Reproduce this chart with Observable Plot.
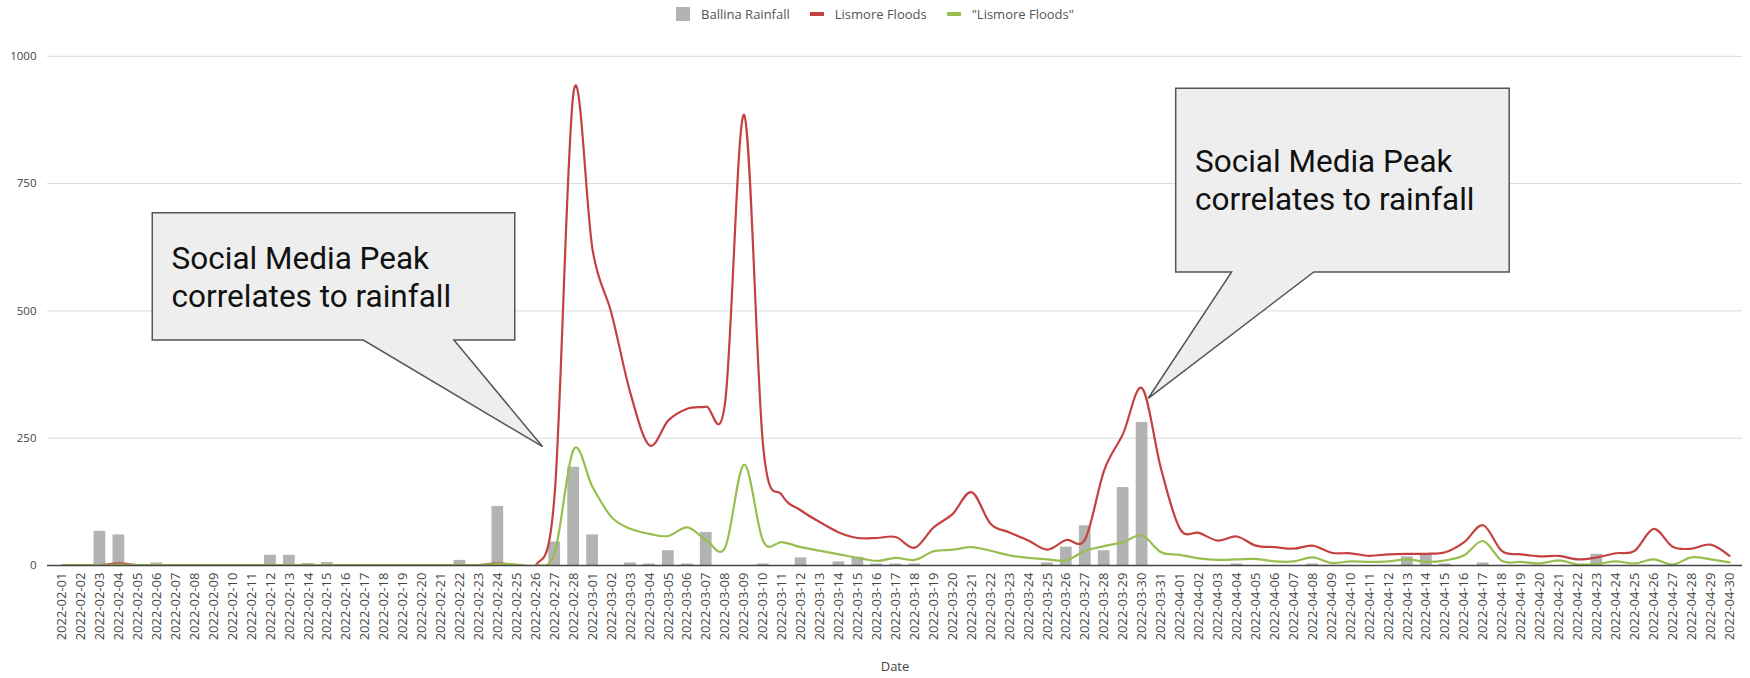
<!DOCTYPE html>
<html><head><meta charset="utf-8">
<script src="https://cdn.jsdelivr.net/npm/d3@7"></script>
<script src="https://cdn.jsdelivr.net/npm/@observablehq/plot@0.6"></script>
<style>
body{margin:0;background:#fff;font-family:"Open Sans",sans-serif;}
#legend{height:28px;display:flex;justify-content:center;align-items:center;font-size:13px;color:#555;}
.item{display:flex;align-items:center;margin:0 10px;}
.sw{margin-right:11px;display:inline-block;}
</style></head><body>
<div id="legend"></div>
<div id="chart"></div>
<script>
const dates = [
"2022-02-01","2022-02-02","2022-02-03","2022-02-04","2022-02-05","2022-02-06","2022-02-07","2022-02-08","2022-02-09","2022-02-10",
"2022-02-11","2022-02-12","2022-02-13","2022-02-14","2022-02-15","2022-02-16","2022-02-17","2022-02-18","2022-02-19","2022-02-20",
"2022-02-21","2022-02-22","2022-02-23","2022-02-24","2022-02-25","2022-02-26","2022-02-27","2022-02-28","2022-03-01","2022-03-02",
"2022-03-03","2022-03-04","2022-03-05","2022-03-06","2022-03-07","2022-03-08","2022-03-09","2022-03-10","2022-03-11","2022-03-12",
"2022-03-13","2022-03-14","2022-03-15","2022-03-16","2022-03-17","2022-03-18","2022-03-19","2022-03-20","2022-03-21","2022-03-22",
"2022-03-23","2022-03-24","2022-03-25","2022-03-26","2022-03-27","2022-03-28","2022-03-29","2022-03-30","2022-03-31","2022-04-01",
"2022-04-02","2022-04-03","2022-04-04","2022-04-05","2022-04-06","2022-04-07","2022-04-08","2022-04-09","2022-04-10","2022-04-11",
"2022-04-12","2022-04-13","2022-04-14","2022-04-15","2022-04-16","2022-04-17","2022-04-18","2022-04-19","2022-04-20","2022-04-21",
"2022-04-22","2022-04-23","2022-04-24","2022-04-25","2022-04-26","2022-04-27","2022-04-28","2022-04-29","2022-04-30"];

const ballinaRainfall = [
0,0,67,60,0,5,0,1,0,0,
0,20,20,4,6,0,0,0,0,1,
0,10,1,116,0,0,46,193,60,0,
5,3,29,3,65,0,0,3,0,15,
0,7,16,3,3,3,0,0,0,0,
0,0,5,36,78,29,153,281,0,0,
0,0,3,0,0,0,3,0,0,0,
0,17,23,3,0,5,0,0,0,0,
0,22,0,0,0,0,0,0,0];

const lismoreFloods = [
0,0,1,4,1,0,0,0,0,0,
0,0,0,0,0,0,0,0,0,0,
0,0,1,4,1,0,140,930,620,495,
338,236,285,308,312,322,885,235,138,108,
85,65,54,54,56,35,75,101,144,82,
65,49,31,50,52,187,259,348,190,72,
64,49,57,39,36,33,39,25,24,19,
22,23,23,26,46,79,28,22,18,19,
12,16,24,29,72,37,33,41,19];

const lismoreFloodsQuoted = [
1,1,1,2,1,1,1,1,1,1,
1,1,1,1,1,1,1,1,1,1,
1,1,1,3,2,0,25,228,154,95,
72,62,58,75,50,36,198,48,46,36,
29,22,15,9,15,11,28,31,36,29,
20,15,12,10,29,38,46,59,26,21,
14,11,12,13,8,8,16,5,8,7,
8,12,7,10,20,48,9,7,4,10,
2,3,8,4,12,2,16,12,6];

const yTicks = [0, 250, 500, 750, 1000];
const seriesNames = ["Ballina Rainfall", "Lismore Floods", "\"Lismore Floods\""];
const seriesColors = ["#b3b3b3", "#c4413f", "#97be4f"];

// callout annotations, anchored in data units (day index, value)
const calloutTexts = [["Social Media Peak", "correlates to rainfall"], ["Social Media Peak", "correlates to rainfall"]];
const calloutBoxes = [[4.79, 23.92, 691.9, 441.9], [58.80, 76.40, 936.2, 575.4]];
const calloutBases = [[15.93, 20.71], [61.75, 66.09]];
const calloutTips = [[25.39, 232.3], [57.35, 327.4]];
const calloutTextAt = [[5.81, 581.3, 507.3], [59.82, 772.4, 697.2]];

// legend
const legend = d3.select("#legend");
seriesNames.forEach((name, k) => {
  const it = legend.append("div").attr("class", "item");
  const sw = it.append("span").attr("class", "sw").style("background", seriesColors[k]).style("width", "14px");
  sw.style("height", k === 0 ? "14px" : "4px");
  it.append("span").text(name);
});

const data = dates.map((d, i) => ({i, date: d, rain: ballinaRainfall[i], red: lismoreFloods[i], green: lismoreFloodsQuoted[i]}));

function calloutMark(k) {
  return (index, scales) => {
    const {x, y} = scales;
    const [x1, x2, yt, yb] = calloutBoxes[k];
    const pts = [[x1, yt], [x2, yt], [x2, yb], [calloutBases[k][1], yb], calloutTips[k], [calloutBases[k][0], yb], [x1, yb]];
    const g = d3.create("svg:g").attr("text-anchor", "start");
    g.append("path")
      .attr("d", "M" + pts.map(([a, b]) => `${x(a)},${y(b)}`).join("L") + "Z")
      .attr("fill", "#eeeeee").attr("stroke", "#555").attr("stroke-width", 1.5);
    calloutTexts[k].forEach((t, j) => {
      g.append("text").attr("x", x(calloutTextAt[k][0])).attr("y", y(calloutTextAt[k][j + 1]))
        .attr("text-anchor", "start")
        .attr("font-family", "Roboto").attr("font-size", 31.5).attr("fill", "#111").text(t);
    });
    return g.node();
  };
}

const chart = Plot.plot({
  width: 1750, height: 650,
  marginLeft: 47, marginRight: 8, marginTop: 28, marginBottom: 113,
  style: {fontFamily: "Open Sans", background: "#fff", color: "#444"},
  x: {type: "linear", domain: [0, 88], range: [61.5, 1729]},
  y: {domain: [0, 1000], range: [537, 27.8]},
  marks: [
    Plot.ruleY(yTicks.filter(t => t > 0), {stroke: "#d9d9d9", strokeWidth: 1}),
    Plot.rectY(data, {x1: d => d.i - 0.31, x2: d => d.i + 0.31, y1: 0, y2: "rain", fill: seriesColors[0]}),
    Plot.lineY(data, {x: "i", y: "red", curve: "cardinal", stroke: seriesColors[1], strokeWidth: 2.2, clip: true}),
    Plot.lineY(data, {x: "i", y: "green", curve: "cardinal", stroke: seriesColors[2], strokeWidth: 2.2, clip: true}),
    Plot.ruleY([0], {stroke: "#444", strokeWidth: 1.5}),
    Plot.axisY({ticks: yTicks, tickFormat: d => String(d), tickSize: 0, tickPadding: 11, fontSize: 11.5, label: null}),
    Plot.axisX({ticks: data.map(d => d.i), tickFormat: i => dates[i], tickRotate: -90, tickSize: 0, tickPadding: 7, fontSize: 13, label: null}),
    Plot.text(["Date"], {frameAnchor: "bottom", dy: 105, fontSize: 13, fill: "#444"}),
    calloutMark(0),
    calloutMark(1)
  ]
});
document.getElementById("chart").appendChild(chart);
</script>
</body></html>
